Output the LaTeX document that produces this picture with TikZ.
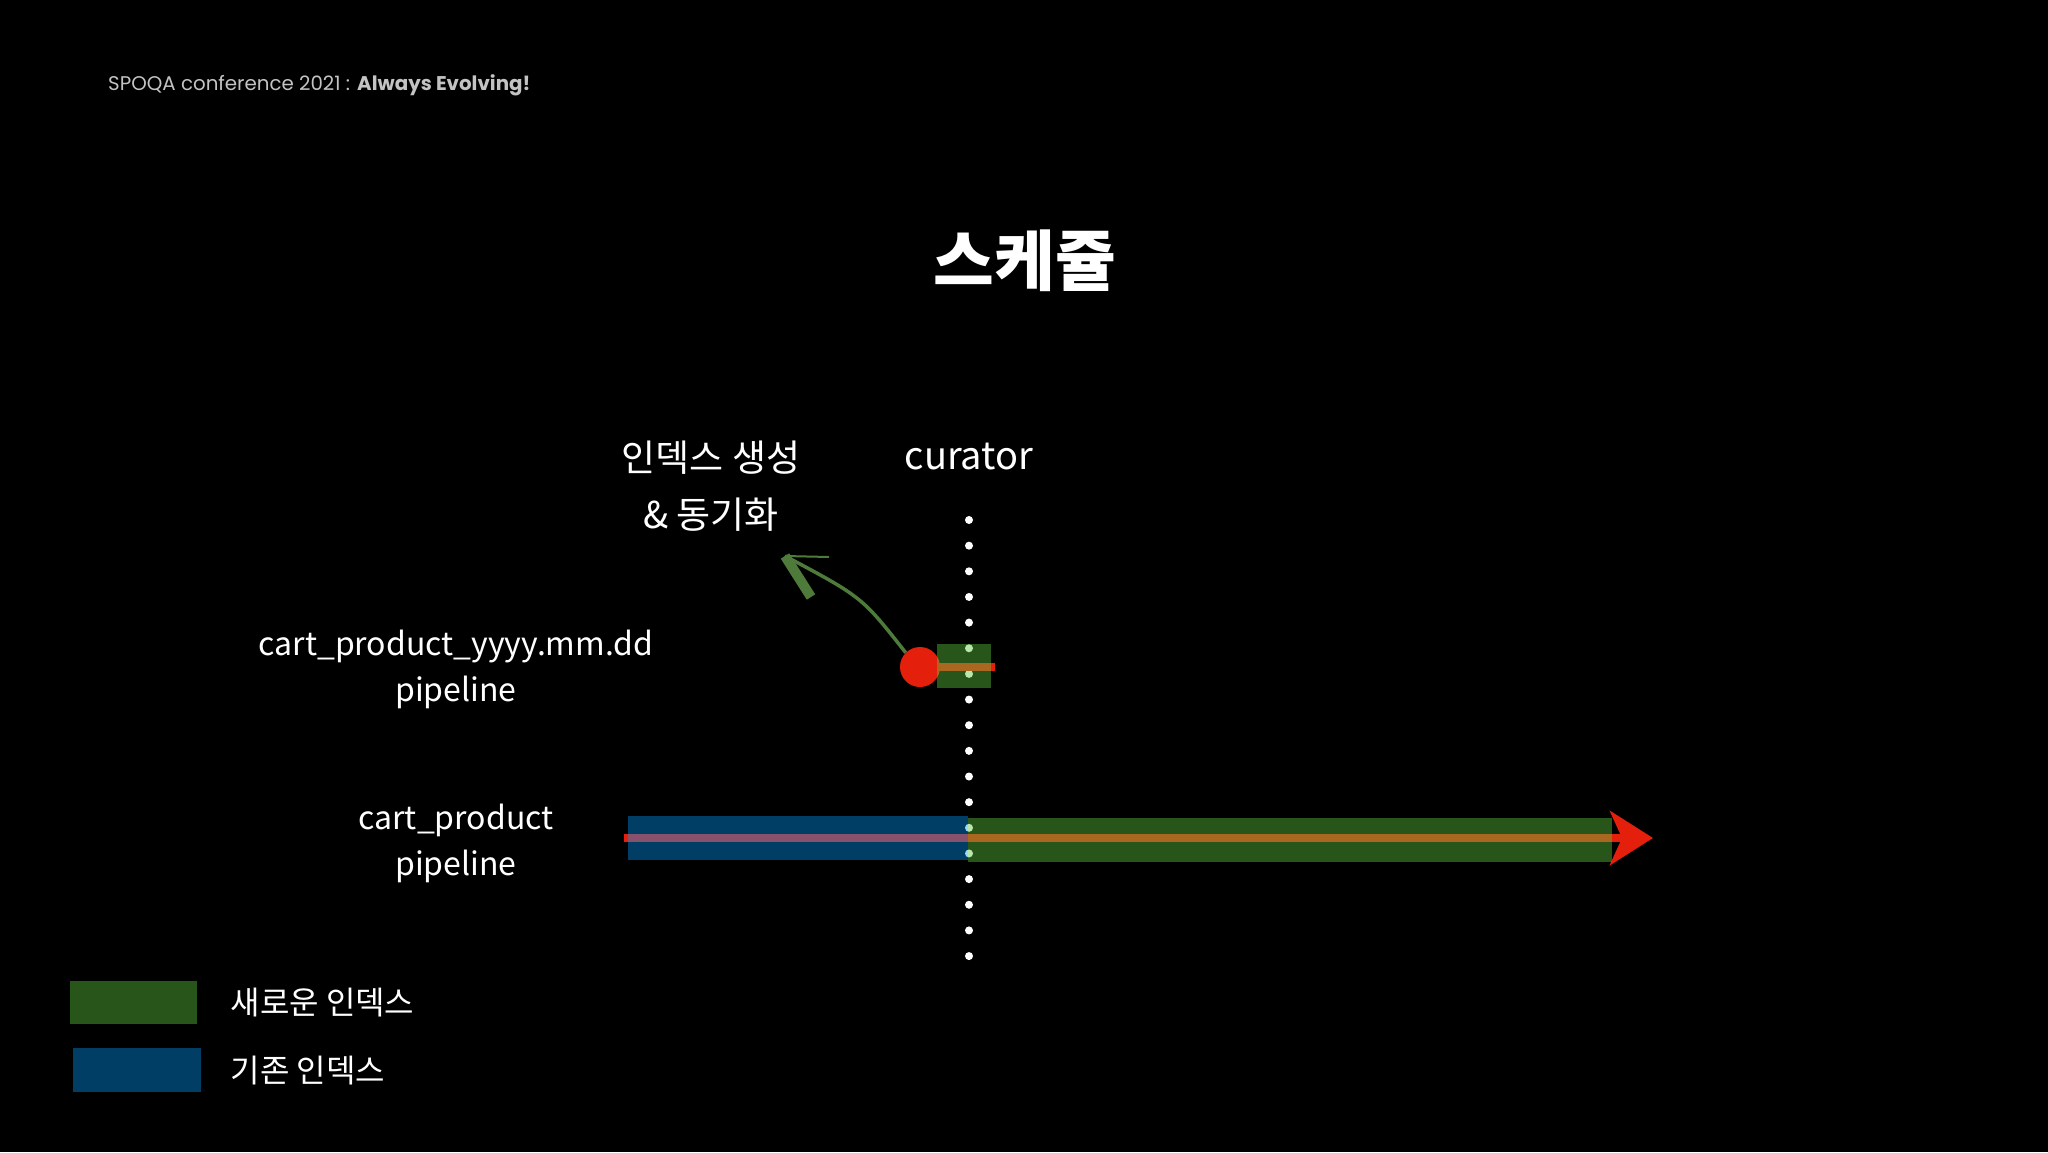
\documentclass[tikz,border=0pt]{standalone}
\usepackage{fontspec}
\setmainfont{Noto Sans CJK KR}
\newfontfamily\headfont{Poppins}
\usetikzlibrary{arrows.meta}
\usetikzlibrary{positioning}

\definecolor{newidx}{RGB}{93,198,58}
\definecolor{oldidx}{RGB}{0,157,255}
\definecolor{crayon}{RGB}{228,32,12}
\definecolor{arrowgreen}{RGB}{78,122,58}
\definecolor{headgray}{RGB}{195,195,195}

\tikzset{
    newbar/.style={fill=newidx, fill opacity=0.43, draw=none},
    oldbar/.style={fill=oldidx, fill opacity=0.40, draw=none},
    pipetext/.style={text=white, font=\fontsize{32}{46}\selectfont, align=center},
    keytext/.style={text=white, font=\fontsize{32}{38}\selectfont, anchor=west, inner sep=0pt},
    crayonline/.style={draw=crayon, line width=8pt},
}

\begin{document}
\begin{tikzpicture}[x=1pt, y=-1pt]
        % background
        \fill[black] (0,0) rectangle (2048,1152);

        % header and title
        \node[anchor=west, inner sep=0pt, text=headgray, font=\headfont\fontsize{19.8}{24}\selectfont] (head) at (108,85)
            {SPOQA conference 2021 : \textbf{Always Evolving!}};
        \node[text=white, font=\bfseries\fontsize{66}{72}\selectfont] (title) at (1025,261) {스케쥴};

        % curator timeline
        \node[pipetext, font=\fontsize{38}{44}\selectfont] (curator) at (969,457) {curator};
        \foreach \k in {0,...,17} {
            \fill[white] (969,520+25.65*\k) circle (4pt);
        }

        % row labels
        \node[pipetext] (daily) at (456,669) {cart\_product\_yyyy.mm.dd\\pipeline};
        \node[pipetext] (main) at (456,843) {cart\_product\\pipeline};
        \node[pipetext, font=\fontsize{37}{57}\selectfont] (sync) at (711,486) {인덱스 생성\\\& 동기화};

        % daily index: start point and short bar
        \node[circle, fill=crayon, minimum size=40pt, inner sep=0pt] (start) at (920,667) {};
        \coordinate (stop) at (995,667);
        \draw[crayonline] (start.center) -- (stop);
        \fill[newbar] (937,644) rectangle (991,688);

        % sync arrow (hand drawn)
        \coordinate (tip) at (785,556);
        \draw[arrowgreen, line width=3.5pt] (start.north west) .. controls (862,597) .. (tip);
        \draw[arrowgreen, line width=10pt] (tip) -- ++(26,41);
        \draw[arrowgreen, line width=2pt] (tip) -- ++(44,1);

        % main pipeline
        \coordinate (from) at (624,838);
        \coordinate (to) at (1653,838);
        \draw[crayonline, -{Stealth[length=43pt, width=54pt, inset=12pt]}] (from) -- (to);
        \fill[oldbar] (628,816) rectangle (968,860);
        \fill[newbar] (968,818) rectangle (1612,862);

        % legend
        \node[newbar, minimum width=127pt, minimum height=43pt, anchor=north west] (keynew) at (70,981) {};
        \node[oldbar, minimum width=128pt, minimum height=44pt, anchor=north west] (keyold) at (73,1048) {};
        \node[keytext, right=33pt of keynew] (keynewtext) {새로운 인덱스};
        \node[keytext, right=29pt of keyold] (keyoldtext) {기존 인덱스};

\end{tikzpicture}
\end{document}
